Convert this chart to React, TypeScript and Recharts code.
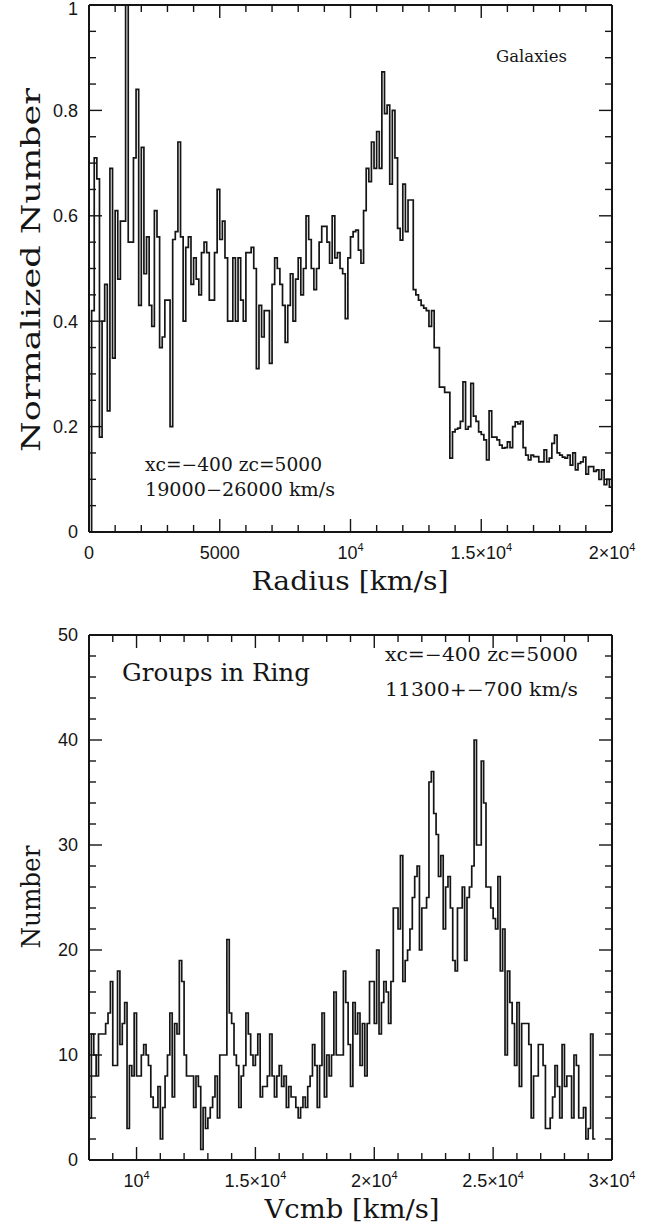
import React from 'react';
import { LineChart, Line, XAxis, YAxis } from 'recharts';

// Galaxies: normalized counts in 100 km/s radius bins, first bin starts at 0
const galaxyBinStart = 0;
const galaxyBinWidth = 100;
const galaxyNorm = [
  0, 0.42, 0.71, 0.67, 0.18, 0.40, 0.47, 0.23, 0.69, 0.33,
  0.61, 0.48, 0.59, 0.59, 1.0, 0.55, 0.55, 0.71, 0.84, 0.43,
  0.73, 0.49, 0.56, 0.43, 0.39, 0.61, 0.56, 0.35, 0.37, 0.44,
  0.44, 0.20, 0.555, 0.57, 0.74, 0.56, 0.40, 0.54, 0.56, 0.47,
  0.52, 0.48, 0.45, 0.53, 0.55, 0.53, 0.44, 0.44, 0.53, 0.65,
  0.555, 0.59, 0.52, 0.40, 0.40, 0.52, 0.40, 0.52, 0.44, 0.40,
  0.53, 0.53, 0.54, 0.50, 0.31, 0.43, 0.37, 0.42, 0.42, 0.32,
  0.47, 0.52, 0.50, 0.47, 0.43, 0.36, 0.43, 0.49, 0.40, 0.48,
  0.52, 0.45, 0.50, 0.60, 0.555, 0.50, 0.46, 0.50, 0.55, 0.58,
  0.58, 0.55, 0.51, 0.60, 0.52, 0.53, 0.50, 0.49, 0.405, 0.52,
  0.56, 0.57, 0.573, 0.535, 0.51, 0.61, 0.69, 0.665, 0.74, 0.69,
  0.76, 0.69, 0.873, 0.794, 0.81, 0.66, 0.80, 0.71, 0.576, 0.554,
  0.66, 0.57, 0.63, 0.63, 0.46, 0.45, 0.44, 0.43, 0.425, 0.42,
  0.39, 0.42, 0.35, 0.35, 0.275, 0.275, 0.265, 0.265, 0.14, 0.19,
  0.195, 0.197, 0.21, 0.285, 0.195, 0.20, 0.282, 0.22, 0.21, 0.19,
  0.185, 0.175, 0.137, 0.23, 0.18, 0.18, 0.175, 0.165, 0.159, 0.16,
  0.171, 0.16, 0.20, 0.209, 0.205, 0.21, 0.16, 0.146, 0.137, 0.146,
  0.143, 0.143, 0.133, 0.133, 0.156, 0.133, 0.14, 0.168, 0.184, 0.15,
  0.146, 0.142, 0.14, 0.146, 0.127, 0.15, 0.118, 0.13, 0.133, 0.142,
  0.11, 0.124, 0.124, 0.115, 0.118, 0.10, 0.118, 0.09, 0.10, 0.085,
];

// Groups in the ring: counts in 100 km/s Vcmb bins from 8000 km/s
const groupBinStart = 8000;
const groupBinWidth = 100;
const groupCounts = [
  4, 12, 10, 8, 12, 12, 12, 13, 14, 17,
  9, 9, 18, 11, 13, 15, 3, 9, 8, 14,
  8, 8, 10, 11, 10, 9, 6, 5, 5, 7,
  2, 5, 8, 10, 14, 6, 13, 12, 19, 17,
  10, 8, 8, 8, 5, 8, 7, 1, 5, 3,
  4, 5, 6, 8, 4, 10, 10, 10, 21, 14,
  13, 10, 9, 5, 8, 9, 14, 12, 10, 9,
  10, 12, 6, 7, 7, 8, 12, 8, 6, 8,
  9, 7, 8, 5, 7, 6, 6, 5, 4, 5,
  6, 5, 7, 8, 11, 9, 5, 9, 14, 6,
  10, 8, 10, 16, 10, 10, 10, 18, 15, 11,
  7, 15, 12, 14, 9, 13, 8, 13, 17, 17,
  13, 20, 12, 15, 17, 16, 13, 17, 24, 24,
  22, 29, 17, 19, 20, 22, 25, 27, 28, 20,
  24, 24, 25, 36, 37, 33, 31, 27, 29, 22,
  26, 27, 24, 19, 18, 24, 24, 26, 19, 25,
  26, 28, 40, 30, 30, 38, 34, 26, 26, 24,
  23, 22, 27, 18, 22, 10, 18, 15, 13, 9,
  15, 7, 13, 13, 13, 11, 4, 8, 8, 11,
  11, 9, 3, 3, 4, 6, 9, 7, 4, 11,
  7, 8, 8, 4, 10, 9, 4, 4, 5, 2,
  3, 12, 2,
];

type TickLabel = { value: number; text: string; sup?: string };

const radiusTickLabels: TickLabel[] = [
  { value: 0, text: '0' },
  { value: 5000, text: '5000' },
  { value: 10000, text: '10', sup: '4' },
  { value: 15000, text: '1.5×10', sup: '4' },
  { value: 20000, text: '2×10', sup: '4' },
];
const normTickLabels: TickLabel[] = [
  { value: 0, text: '0' },
  { value: 0.2, text: '0.2' },
  { value: 0.4, text: '0.4' },
  { value: 0.6, text: '0.6' },
  { value: 0.8, text: '0.8' },
  { value: 1, text: '1' },
];
const vcmbTickLabels: TickLabel[] = [
  { value: 10000, text: '10', sup: '4' },
  { value: 15000, text: '1.5×10', sup: '4' },
  { value: 20000, text: '2×10', sup: '4' },
  { value: 25000, text: '2.5×10', sup: '4' },
  { value: 30000, text: '3×10', sup: '4' },
];
const numberTickLabels: TickLabel[] = [
  { value: 0, text: '0' },
  { value: 10, text: '10' },
  { value: 20, text: '20' },
  { value: 30, text: '30' },
  { value: 40, text: '40' },
  { value: 50, text: '50' },
];

const range = (from: number, to: number, step: number) => {
  const out: number[] = [];
  const n = Math.round((to - from) / step);
  for (let i = 0; i <= n; i++) out.push(Math.round((from + i * step) * 1000) / 1000);
  return out;
};

// step rows: one point per bin start plus a closing point at the last bin's end
const toSteps = (start: number, width: number, values: number[]) => {
  const rows = values.map((v, i) => ({ x: start + i * width, y: v }));
  rows.push({ x: start + values.length * width, y: values[values.length - 1] });
  return rows;
};

const INK = '#151515';
const tickFont = '"Liberation Sans", Arial, sans-serif';
const titleFont = '"DejaVu Serif", serif';
const MAJOR = 13;
const MINOR = 7;

const findLabel = (labels: TickLabel[], v: number) =>
  labels.find((l) => Math.abs(l.value - v) < 1e-6);

const bottomTick = (labels: TickLabel[]) => (props: any) => {
  const { x, y, payload } = props;
  const lab = findLabel(labels, payload.value);
  return (
    <g>
      <line x1={x} x2={x} y1={y} y2={y - (lab ? MAJOR : MINOR)} stroke={INK} strokeWidth={1.4} />
      {lab && (
        <text x={x} y={y + 27} textAnchor="middle" fontFamily={tickFont} fontSize={18} fill={INK}>
          {lab.text}
          {lab.sup && (
            <tspan dy={-8} fontSize={11}>
              {lab.sup}
            </tspan>
          )}
        </text>
      )}
    </g>
  );
};

const topTick = (labels: TickLabel[]) => (props: any) => {
  const { x, y, payload } = props;
  const lab = findLabel(labels, payload.value);
  return <line x1={x} x2={x} y1={y} y2={y + (lab ? MAJOR : MINOR)} stroke={INK} strokeWidth={1.4} />;
};

const leftTick = (labels: TickLabel[]) => (props: any) => {
  const { x, y, payload } = props;
  const lab = findLabel(labels, payload.value);
  // keep the topmost label inside the svg
  const ty = Math.max(y, 9);
  return (
    <g>
      <line x1={x} x2={x + (lab ? MAJOR : MINOR)} y1={y} y2={y} stroke={INK} strokeWidth={1.4} />
      {lab && (
        <text x={x - 11} y={ty} dy="0.36em" textAnchor="end" fontFamily={tickFont} fontSize={18} fill={INK}>
          {lab.text}
        </text>
      )}
    </g>
  );
};

const rightTick = (labels: TickLabel[]) => (props: any) => {
  const { x, y, payload } = props;
  const lab = findLabel(labels, payload.value);
  return <line x1={x} x2={x - (lab ? MAJOR : MINOR)} y1={y} y2={y} stroke={INK} strokeWidth={1.4} />;
};

type PanelProps = {
  rows: { x: number; y: number }[];
  height: number;
  marginTop: number;
  xAxisHeight: number;
  xDomain: [number, number];
  yDomain: [number, number];
  xTicks: number[];
  yTicks: number[];
  xLabels: TickLabel[];
  yLabels: TickLabel[];
};

const frameLine = { stroke: INK, strokeWidth: 2 };

// the top and right axes only carry the frame and inward ticks; they need a
// non-zero size or they are not drawn at all
const HistPanel: React.FC<PanelProps> = ({
  rows, height, marginTop, xAxisHeight, xDomain, yDomain, xTicks, yTicks, xLabels, yLabels,
}) => (
  <LineChart width={666} height={height} data={rows} margin={{ top: marginTop - 1, right: 53, bottom: 0, left: 0 }}>
    <XAxis
      xAxisId="b" dataKey="x" type="number" domain={xDomain} allowDataOverflow
      ticks={xTicks} interval={0} tickSize={0} tickMargin={0} height={xAxisHeight}
      axisLine={frameLine} tickLine={false} tick={bottomTick(xLabels)}
    />
    <XAxis
      xAxisId="t" orientation="top" dataKey="x" type="number" domain={xDomain} allowDataOverflow
      ticks={xTicks} interval={0} tickSize={0} tickMargin={0} height={1}
      axisLine={frameLine} tickLine={false} tick={topTick(xLabels)}
    />
    <YAxis
      yAxisId="l" type="number" domain={yDomain} allowDataOverflow
      ticks={yTicks} interval={0} tickSize={0} tickMargin={0} width={89}
      axisLine={frameLine} tickLine={false} tick={leftTick(yLabels)}
    />
    <YAxis
      yAxisId="r" orientation="right" type="number" domain={yDomain} allowDataOverflow
      ticks={yTicks} interval={0} tickSize={0} tickMargin={0} width={1}
      axisLine={frameLine} tickLine={false} tick={rightTick(yLabels)}
    />
    <Line
      xAxisId="b" yAxisId="l" type="stepAfter" dataKey="y" stroke={INK} strokeWidth={1.7}
      dot={false} activeDot={false} isAnimationActive={false}
    />
    <Line
      xAxisId="t" yAxisId="r" type="stepAfter" dataKey="y" stroke="none"
      dot={false} activeDot={false} isAnimationActive={false}
    />
  </LineChart>
);

const galaxyRows = toSteps(galaxyBinStart, galaxyBinWidth, galaxyNorm);
const groupRows = toSteps(groupBinStart, groupBinWidth, groupCounts);

const Title: React.FC<{ x: number; y: number; size: number; len: number; anchor?: string; rotate?: boolean; children: React.ReactNode }> = ({
  x, y, size, len, anchor = 'start', rotate = false, children,
}) => (
  <text
    x={rotate ? 0 : x}
    y={rotate ? 0 : y}
    transform={rotate ? `translate(${x},${y}) rotate(-90)` : undefined}
    textAnchor={anchor}
    fontFamily={titleFont}
    fontSize={size}
    fill={INK}
    textLength={len}
    lengthAdjust="spacingAndGlyphs"
  >
    {children}
  </text>
);

export default function App() {
  return (
    <div style={{ position: 'absolute', left: 0, top: 0, width: 666, height: 1224, background: '#fff' }}>
      <div style={{ position: 'absolute', left: 0, top: 0 }}>
        <HistPanel
          rows={galaxyRows}
          height={612}
          marginTop={5}
          xAxisHeight={80}
          xDomain={[0, 20000]}
          yDomain={[0, 1]}
          xTicks={range(0, 20000, 1000)}
          yTicks={range(0, 1, 0.05)}
          xLabels={radiusTickLabels}
          yLabels={normTickLabels}
        />
      </div>
      <div style={{ position: 'absolute', left: 0, top: 620 }}>
        <HistPanel
          rows={groupRows}
          height={604}
          marginTop={15}
          xAxisHeight={64}
          xDomain={[8000, 30000]}
          yDomain={[0, 50]}
          xTicks={range(8000, 30000, 1000)}
          yTicks={range(0, 50, 2)}
          xLabels={vcmbTickLabels}
          yLabels={numberTickLabels}
        />
      </div>
      <svg width={666} height={1224} style={{ position: 'absolute', left: 0, top: 0, pointerEvents: 'none' }}>
        <Title x={350} y={590} size={26} len={197} anchor="middle">Radius [km/s]</Title>
        <Title x={40} y={270} size={26} len={364} anchor="middle" rotate>Normalized Number</Title>
        <Title x={496} y={62} size={16} len={71}>Galaxies</Title>
        <Title x={145} y={471} size={18} len={177}>xc=−400 zc=5000</Title>
        <Title x={145} y={496} size={18} len={190}>19000−26000 km/s</Title>

        <Title x={352} y={1218} size={26} len={175} anchor="middle">Vcmb [km/s]</Title>
        <Title x={40} y={897} size={26} len={103} anchor="middle" rotate>Number</Title>
        <Title x={122} y={681} size={24} len={188}>Groups in Ring</Title>
        <Title x={385} y={661} size={18} len={193}>xc=−400 zc=5000</Title>
        <Title x={385} y={696} size={18} len={193}>11300+−700 km/s</Title>
      </svg>
    </div>
  );
}
